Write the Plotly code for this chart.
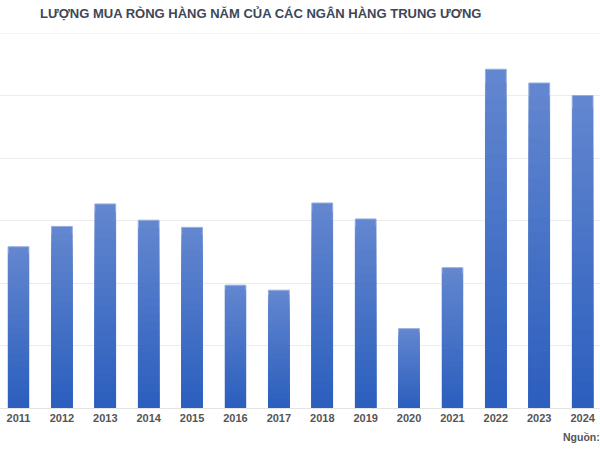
import plotly.graph_objects as go

years = ["2011", "2012", "2013", "2014", "2015", "2016", "2017",
         "2018", "2019", "2020", "2021", "2022", "2023", "2024"]
net_purchases = [516, 581, 653, 601, 578, 393, 377, 656, 605, 254, 449, 1084, 1040, 1000]

title_text = "LƯỢNG MUA RÒNG HÀNG NĂM CỦA CÁC NGÂN HÀNG TRUNG ƯƠNG"
source_text = "Nguồn:"

top_rgb = (98, 134, 207)
bottom_rgb = (44, 95, 190)
N = 24

fig = go.Figure()
for k in range(N):
    frac = 1 - k / N
    t = k / (N - 1)
    c = tuple(round(top_rgb[i] + (bottom_rgb[i] - top_rgb[i]) * t) for i in range(3))
    fig.add_trace(go.Bar(
        x=years,
        y=[v * frac for v in net_purchases],
        marker=dict(color=f"rgb{c}",
                    line=dict(width=1 if k == 0 else 0, color="rgb(150,172,222)")),
        width=0.48,
        hoverinfo="skip" if k else None,
        showlegend=False,
    ))

pw, ph = 600, 450 - 33 - 42

fig.update_layout(
    width=600, height=450,
    margin=dict(l=0, r=0, t=33, b=42),
    barmode="overlay",
    plot_bgcolor="white", paper_bgcolor="white",
    font=dict(family="Liberation Sans, Arial, sans-serif"),
    xaxis=dict(
        type="category",
        range=[-0.426, 13.40],
        showgrid=False,
        showline=True, linecolor="#e4e4e4", linewidth=1,
        ticks="",
        tickfont=dict(size=11, color="#555555", family="Liberation Sans, Arial, sans-serif"),
        tickprefix="<b>", ticksuffix="</b>",
    ),
    yaxis=dict(
        range=[0, 1200],
        tickvals=[200, 400, 600, 800, 1000, 1200],
        showticklabels=False,
        gridcolor="#ececec", gridwidth=1,
        zeroline=False,
    ),
    shapes=[dict(type="line", xref="paper", yref="y", x0=0, x1=1, y0=1200, y1=1200,
                 line=dict(color="#ececec", width=1), layer="below")],
    annotations=[
        dict(text=f"<b>{title_text}</b>", x=260 / pw, y=(450 - 42 - 13) / ph,
             xref="paper", yref="paper", xanchor="center", yanchor="middle",
             showarrow=False, font=dict(size=13, color="#3d4757")),
        dict(text=f"<b>{source_text}</b>", x=561 / pw, y=(450 - 42 - 437) / ph,
             xref="paper", yref="paper", xanchor="left", yanchor="middle",
             showarrow=False, font=dict(size=10.5, color="#555555")),
    ],
)

fig.write_html("out.html")
